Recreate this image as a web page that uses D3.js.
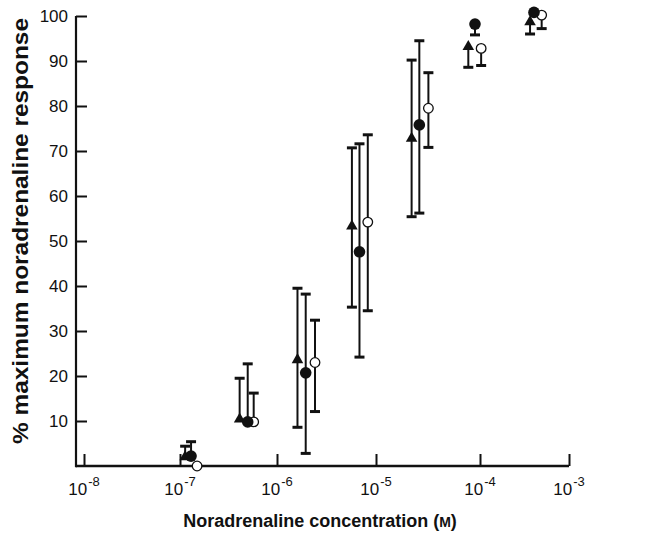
<!DOCTYPE html>
<html>
<head>
<meta charset="utf-8">
<script src="https://cdn.jsdelivr.net/npm/d3@7"></script>
<style>
  html, body { margin: 0; padding: 0; background: #fff; }
  svg { display: block; }
  text { font-family: "Liberation Sans", Arial, Helvetica, sans-serif; fill: #111; }
</style>
</head>
<body>
<svg id="chart" width="669" height="533"></svg>
<script>
// ---------- data ----------
const xTickValues = [1e-8, 1e-7, 1e-6, 1e-5, 1e-4, 1e-3];
const xTickExponents = ["-8", "-7", "-6", "-5", "-4", "-3"];
const yTickValues = [10, 20, 30, 40, 50, 60, 70, 80, 90, 100];

// filled triangles
const triConc  = [1.13e-7, 4.12e-7, 1.61e-6, 5.71e-6, 2.20e-5, 7.72e-5, 3.65e-4];
const triResp  = [2.0, 10.4, 23.6, 53.3, 72.8, 93.2, 98.7];
const triUpper = [4.4, 19.5, 39.5, 70.7, 90.2, null, null];
const triLower = [null, null, 8.6, 35.3, 55.4, 88.6, 96.0];

// filled circles
const fillConc  = [1.30e-7, 4.99e-7, 1.95e-6, 6.81e-6, 2.61e-5, 8.95e-5, 4.04e-4];
const fillResp  = [2.2, 9.8, 20.7, 47.6, 75.8, 98.2, 100.8];
const fillUpper = [5.4, 22.7, 38.2, 71.6, 94.5, null, null];
const fillLower = [null, null, 2.8, 24.2, 56.2, 95.8, null];

// open circles
const openConc  = [1.50e-7, 5.75e-7, 2.42e-6, 8.26e-6, 3.19e-5, 1.03e-4, 4.93e-4];
const openResp  = [0.0, 9.8, 23.0, 54.2, 79.5, 92.8, 100.2];
const openUpper = [null, 16.2, 32.4, 73.6, 87.4, null, null];
const openLower = [null, null, 12.1, 34.5, 70.8, 89.0, 97.2];

const xTitle = "Noradrenaline concentration (";
const xTitleUnit = "M";
const yTitle = "% maximum noradrenaline response";

// ---------- layout ----------
const svg = d3.select("#chart");
const axisX0 = 76;       // y-axis position
const axisY0 = 466;      // x-axis position

const x = d3.scaleLog()
  .domain(xTickValues)
  .range([84, 180, 277, 376, 480, 569]);
const y = d3.scaleLinear().domain([0, 100]).range([axisY0, 16]);

svg.append("rect").attr("width", 669).attr("height", 533).attr("fill", "#fff");

// axis lines
svg.append("line")
  .attr("x1", axisX0).attr("x2", x.range()[x.range().length - 1])
  .attr("y1", axisY0).attr("y2", axisY0)
  .attr("stroke", "#111").attr("stroke-width", 2.4);
svg.append("line")
  .attr("x1", axisX0).attr("x2", axisX0)
  .attr("y1", axisY0 + 1.2).attr("y2", y(100))
  .attr("stroke", "#111").attr("stroke-width", 2.2);

// x axis ticks
const gx = svg.append("g")
  .attr("transform", `translate(0,${axisY0})`)
  .call(d3.axisBottom(x).tickValues(xTickValues).tickSize(-12).tickSizeOuter(0).tickFormat(""));
gx.select(".domain").remove();
gx.selectAll(".tick line").attr("stroke", "#111").attr("stroke-width", 2);

// x tick labels 10^n
const xl = svg.append("g");
xTickValues.forEach((v, i) => {
  const t = xl.append("text")
    .attr("x", x(v))
    .attr("y", 495)
    .attr("text-anchor", "middle");
  t.append("tspan").attr("font-size", 17).text("10");
  t.append("tspan").attr("font-size", 13).attr("dx", 1).attr("dy", -9).text(xTickExponents[i]);
});

// y axis ticks + labels
const gy = svg.append("g")
  .attr("transform", `translate(${axisX0},0)`)
  .call(d3.axisLeft(y).tickValues(yTickValues).tickSize(-11).tickSizeOuter(0).tickPadding(8).tickFormat(d => d));
gy.select(".domain").remove();
gy.selectAll(".tick line").attr("stroke", "#111").attr("stroke-width", 2);
gy.selectAll(".tick text")
  .attr("font-size", 17)
  .attr("fill", "#111")
  .attr("font-family", "'Liberation Sans', Arial, Helvetica, sans-serif");

// titles
const xt = svg.append("text")
  .attr("x", 320).attr("y", 527)
  .attr("text-anchor", "middle")
  .attr("font-size", 18)
  .attr("font-weight", "bold");
xt.append("tspan").text(xTitle);
xt.append("tspan").attr("font-size", 14).text(xTitleUnit);
xt.append("tspan").text(")");

svg.append("text")
  .attr("transform", `translate(28,${(17 + 445) / 2}) rotate(-90)`)
  .attr("text-anchor", "middle")
  .attr("font-size", 22)
  .attr("font-weight", "bold")
  .attr("textLength", 426)
  .attr("lengthAdjust", "spacingAndGlyphs")
  .text(yTitle);

// ---------- error bars ----------
function errorBars(conc, resp, upper, lower) {
  const g = svg.append("g").attr("stroke", "#111");
  conc.forEach((c, i) => {
    const cx = x(c);
    [upper[i], lower[i]].forEach(e => {
      if (e === null) return;
      g.append("line")
        .attr("x1", cx).attr("x2", cx)
        .attr("y1", y(resp[i])).attr("y2", y(e))
        .attr("stroke-width", 2);
      g.append("line")
        .attr("x1", cx - 5).attr("x2", cx + 5)
        .attr("y1", y(e)).attr("y2", y(e))
        .attr("stroke-width", 3);
    });
  });
}
errorBars(openConc, openResp, openUpper, openLower);
errorBars(triConc, triResp, triUpper, triLower);
errorBars(fillConc, fillResp, fillUpper, fillLower);

// ---------- markers ----------
svg.append("g").selectAll("circle")
  .data(openConc.map((c, i) => [c, openResp[i]]))
  .join("circle")
  .attr("cx", d => x(d[0])).attr("cy", d => y(d[1]))
  .attr("r", 4.8)
  .attr("fill", "#fff").attr("stroke", "#111").attr("stroke-width", 1.3);

const tri = d3.symbol().type(d3.symbolTriangle).size(58);
svg.append("g").selectAll("path")
  .data(triConc.map((c, i) => [c, triResp[i]]))
  .join("path")
  .attr("d", tri)
  .attr("transform", d => `translate(${x(d[0])},${y(d[1])})`)
  .attr("fill", "#111");

svg.append("g").selectAll("circle")
  .data(fillConc.map((c, i) => [c, fillResp[i]]))
  .join("circle")
  .attr("cx", d => x(d[0])).attr("cy", d => y(d[1]))
  .attr("r", 5.8)
  .attr("fill", "#111");
</script>
</body>
</html>
